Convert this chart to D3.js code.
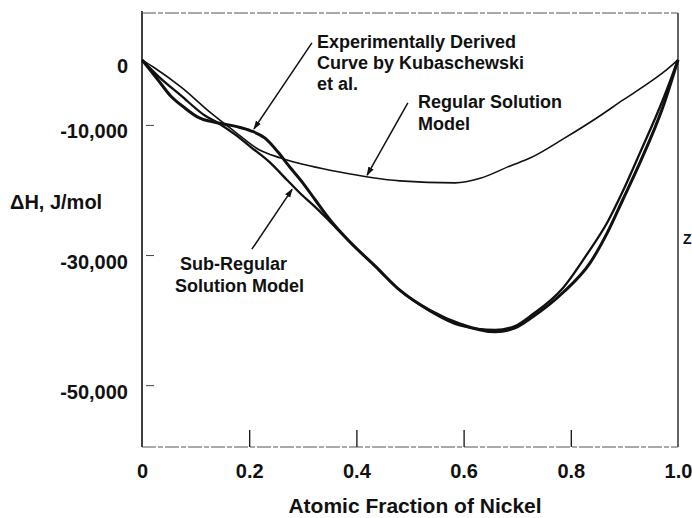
<!DOCTYPE html>
<html>
<head>
<meta charset="utf-8">
<script src="https://cdn.jsdelivr.net/npm/d3@7"></script>
<style>
  body { margin: 0; background: #fff; }
  svg { display: block; font-family: "Liberation Sans", Arial, Helvetica, sans-serif; font-weight: bold; }
  .tick text { font-size: 20px; fill: #111; }
  .note { font-size: 18px; fill: #111; }
</style>
</head>
<body>
<svg id="chart" width="692" height="518"></svg>
<script>
// axis ticks
const xTicks = [0, 0.2, 0.4, 0.6, 0.8, 1.0];
const xTickLabels = ["0", "0.2", "0.4", "0.6", "0.8", "1.0"];
const yTicks = [0, -10000, -30000, -50000];
const yTickLabels = ["0", "-10,000", "-30,000", "-50,000"];

// Experimentally derived curve (Kubaschewski et al.)
const expX = [0, 0.030, 0.054, 0.080, 0.104, 0.142, 0.179, 0.203, 0.229, 0.254, 0.276, 0.300, 0.323,
  0.351, 0.388, 0.435, 0.481, 0.537, 0.593, 0.659, 0.696, 0.729, 0.785, 0.836, 0.868, 0.897, 0.929, 0.972, 1.0];
const expY = [0, -3100, -5600, -7400, -8800, -9700, -10300, -10900, -12000, -14200, -16500, -18900, -21500,
  -24600, -28000, -31700, -35400, -38500, -40600, -41800, -41200, -39500, -35800, -31200, -26600, -21500, -15800, -7200, 0];

// Sub-regular solution model
const subX = [0, 0.030, 0.073, 0.118, 0.142, 0.174, 0.203, 0.239, 0.271, 0.295, 0.323,
  0.351, 0.388, 0.435, 0.481, 0.537, 0.593, 0.659, 0.696, 0.729, 0.785, 0.830, 0.868, 0.897, 0.929, 0.972, 1.0];
const subY = [0, -2500, -5500, -8600, -9700, -11500, -13400, -15800, -18500, -20500, -22600,
  -24900, -28000, -31700, -35400, -38600, -40800, -41500, -40900, -39100, -35100, -29900, -25000, -20200, -14300, -6100, 0];

// Regular solution model
const regX = [0, 0.021, 0.073, 0.129, 0.174, 0.216, 0.259, 0.366, 0.481, 0.584, 0.631, 0.687,
  0.724, 0.789, 0.849, 0.897, 0.948, 0.979, 1.0];
const regY = [0, -1100, -4200, -8200, -11100, -13700, -15100, -17200, -18600, -18900, -18200, -16300,
  -15100, -12000, -8900, -6200, -3400, -1500, 0];

const svg = d3.select("#chart");
const plotL = 142, plotR = 678, plotT = 13, plotB = 447;

const x = d3.scaleLinear().domain([0, 1]).range([plotL, plotR]);
const y = d3.scaleLinear().domain([-59500, 7200]).range([plotB, plotT]);

svg.append("rect").attr("width", 692).attr("height", 518).attr("fill", "#fff");

// frame: solid sides, faint broken top and bottom
svg.append("line").attr("x1", plotL).attr("x2", plotL).attr("y1", plotT - 2).attr("y2", plotB)
  .attr("stroke", "#111").attr("stroke-width", 1.6);
svg.append("line").attr("x1", plotR).attr("x2", plotR).attr("y1", plotT).attr("y2", plotB)
  .attr("stroke", "#222").attr("stroke-width", 1.4);
[plotT, plotB].forEach(yy => {
  svg.append("line").attr("x1", plotL).attr("x2", plotR).attr("y1", yy).attr("y2", yy)
    .attr("stroke", "#555").attr("stroke-width", 1).attr("stroke-dasharray", "14,2,5,2");
});

// axes
const yAxis = svg.append("g")
  .attr("transform", `translate(${plotL},0)`)
  .call(d3.axisLeft(y).tickValues(yTicks).tickFormat((d, i) => yTickLabels[i])
    .tickSizeInner(-12).tickSizeOuter(0).tickPadding(14));
yAxis.select(".domain").remove();
yAxis.selectAll(".tick text").attr("dy", "0.65em");
yAxis.selectAll(".tick line").attr("stroke", "#444").attr("x1", 4)
  .filter(d => d === 0).remove();

const xAxis = svg.append("g")
  .attr("transform", `translate(0,${plotB})`)
  .call(d3.axisBottom(x).tickValues(xTicks).tickFormat((d, i) => xTickLabels[i])
    .tickSizeInner(-17).tickSizeOuter(0).tickPadding(17));
xAxis.select(".domain").remove();
xAxis.selectAll(".tick line").attr("stroke", "#111").attr("stroke-width", 1.3)
  .filter(d => d === 0 || d === 1).remove();

svg.append("text").attr("x", 10).attr("y", 209)
  .style("font-size", "20px").attr("fill", "#111").text("ΔH, J/mol");
svg.append("text").attr("x", 415).attr("y", 513).attr("text-anchor", "middle")
  .style("font-size", "21px").attr("fill", "#111").text("Atomic Fraction of Nickel");

// curves
const line = d3.line().x(d => x(d[0])).y(d => y(d[1])).curve(d3.curveMonotoneX);
const series = [
  { xs: regX, ys: regY, w: 1.6 },
  { xs: subX, ys: subY, w: 2.3 },
  { xs: expX, ys: expY, w: 3 }
];
svg.selectAll("path.curve")
  .data(series)
  .enter().append("path")
    .attr("class", "curve")
    .attr("d", s => line(s.xs.map((v, i) => [v, s.ys[i]])))
    .attr("fill", "none")
    .attr("stroke", "#111")
    .attr("stroke-width", s => s.w)
    .attr("stroke-linejoin", "round");

// annotation arrows
svg.append("defs").append("marker")
  .attr("id", "head")
  .attr("viewBox", "0 -4 9 8")
  .attr("refX", 8).attr("refY", 0)
  .attr("markerUnits", "userSpaceOnUse")
  .attr("markerWidth", 9).attr("markerHeight", 8)
  .attr("orient", "auto")
  .append("path").attr("d", "M0,-3L9,0L0,3Z").attr("fill", "#111");

const arrows = [
  { from: [0.317, 2600], to: [0.209, -10600] },
  { from: [0.496, -6600], to: [0.420, -17700] },
  { from: [0.205, -29100], to: [0.280, -19900] }
];
svg.selectAll("line.arrow")
  .data(arrows)
  .enter().append("line")
    .attr("class", "arrow")
    .attr("x1", d => x(d.from[0])).attr("y1", d => y(d.from[1]))
    .attr("x2", d => x(d.to[0])).attr("y2", d => y(d.to[1]))
    .attr("stroke", "#111").attr("stroke-width", 1.5)
    .attr("marker-end", "url(#head)");

const notes = [
  { x: 317, y: 48, t: "Experimentally Derived" },
  { x: 317, y: 69, t: "Curve by Kubaschewski" },
  { x: 317, y: 90, t: "et al." },
  { x: 418, y: 108, t: "Regular Solution" },
  { x: 418, y: 130, t: "Model" },
  { x: 180, y: 270, t: "Sub-Regular" },
  { x: 175, y: 292, t: "Solution Model" }
];
svg.selectAll("text.note")
  .data(notes)
  .enter().append("text")
    .attr("class", "note")
    .attr("x", d => d.x).attr("y", d => d.y)
    .text(d => d.t);

// stray letter from the neighbouring page at the right edge
svg.append("text").attr("x", 683).attr("y", 244)
  .style("font-size", "14px").attr("fill", "#111").text("Z");
</script>
</body>
</html>
